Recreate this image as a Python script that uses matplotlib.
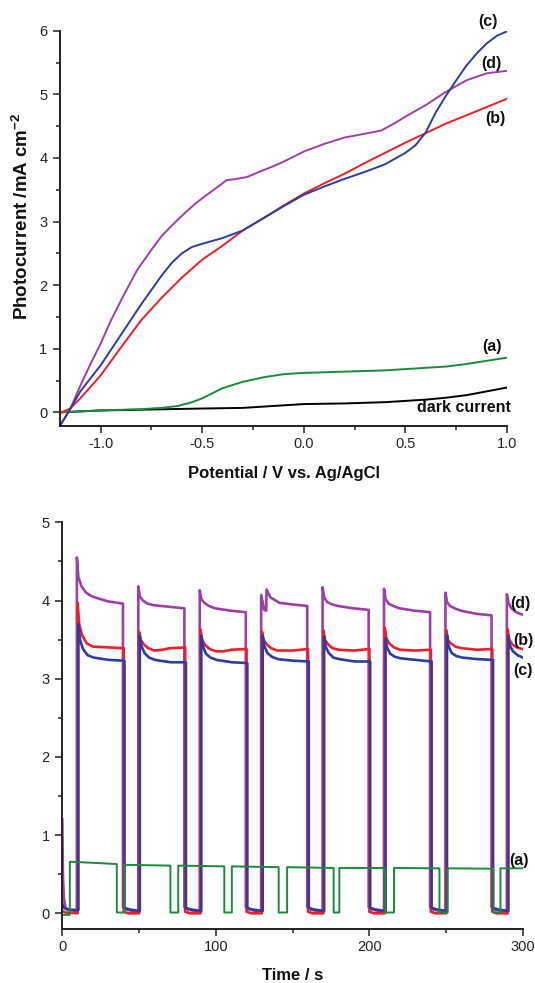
import numpy as np
import matplotlib
matplotlib.use('Agg')
import matplotlib.pyplot as plt
from matplotlib.ticker import MultipleLocator, FormatStrFormatter

plt.rcParams['font.family'] = ['Liberation Sans', 'DejaVu Sans']
plt.rcParams['axes.unicode_minus'] = False
plt.rcParams['mathtext.default'] = 'regular'

# ---------------- top panel data (Potential / V vs. Ag/AgCl) ----------------
d_x = [-1.2, -1.15, -1.1, -1.05, -1.0, -0.95, -0.89, -0.82, -0.74, -0.7, -0.655, -0.61,
       -0.57, -0.53, -0.49, -0.43, -0.38, -0.33, -0.28, -0.22, -0.15, -0.1, -0.05, 0.0,
       0.1, 0.2, 0.3, 0.38, 0.45, 0.5, 0.55, 0.6, 0.69, 0.75, 0.8, 0.9, 1.0]
d_y = [-0.21, 0.05, 0.42, 0.76, 1.08, 1.44, 1.82, 2.24, 2.6, 2.77, 2.92, 3.06,
       3.18, 3.29, 3.39, 3.53, 3.65, 3.67, 3.7, 3.78, 3.87, 3.94, 4.02, 4.1,
       4.22, 4.32, 4.38, 4.43, 4.55, 4.65, 4.74, 4.83, 5.02, 5.13, 5.22, 5.33, 5.37]

c_x = [-1.2, -1.15, -1.1, -1.0, -0.9, -0.8, -0.7, -0.65, -0.6, -0.55, -0.5, -0.4, -0.3,
       -0.2, -0.1, 0.0, 0.1, 0.2, 0.3, 0.4, 0.5, 0.55, 0.6, 0.65, 0.7, 0.75, 0.8, 0.85,
       0.9, 0.95, 1.0]
c_y = [-0.21, 0.05, 0.33, 0.74, 1.22, 1.7, 2.15, 2.35, 2.5, 2.6, 2.65, 2.74, 2.86,
       3.05, 3.24, 3.42, 3.55, 3.67, 3.78, 3.9, 4.08, 4.2, 4.4, 4.72, 4.98, 5.22, 5.45, 5.64,
       5.8, 5.92, 5.99]

b_x = [-1.2, -1.15, -1.1, -1.0, -0.9, -0.8, -0.7, -0.6, -0.5, -0.4, -0.3, -0.2, -0.1,
       0.0, 0.1, 0.2, 0.3, 0.4, 0.5, 0.6, 0.7, 0.8, 0.9, 1.0]
b_y = [-0.01, 0.06, 0.22, 0.58, 1.02, 1.45, 1.8, 2.12, 2.4, 2.62, 2.86, 3.05, 3.25,
       3.44, 3.6, 3.75, 3.92, 4.08, 4.24, 4.39, 4.54, 4.67, 4.8, 4.93]

a_x = [-1.2, -1.0, -0.8, -0.7, -0.62, -0.55, -0.5, -0.45, -0.4, -0.3, -0.2, -0.1, 0.0,
       0.2, 0.4, 0.6, 0.7, 0.8, 0.9, 1.0]
a_y = [0.0, 0.03, 0.05, 0.07, 0.1, 0.16, 0.22, 0.3, 0.38, 0.48, 0.55, 0.6, 0.62,
       0.64, 0.66, 0.7, 0.72, 0.76, 0.81, 0.86]

dark_x = [-1.2, -1.0, -0.5, -0.3, -0.1, 0.0, 0.2, 0.4, 0.5, 0.6, 0.7, 0.8, 0.9, 1.0]
dark_y = [0.0, 0.03, 0.06, 0.07, 0.11, 0.13, 0.14, 0.16, 0.18, 0.2, 0.23, 0.27, 0.33, 0.39]

# ---------------- bottom panel data (Time / s) ----------------
# sample d
d_start = [(0, 1.2), (0.4, 0.5), (1, 0.2), (2, 0.08), (4, 0.04), (9.5, 0.03)]
d_on = [9.5, 49.5, 89.5, 129.5, 169.5, 209.5, 249.5, 289.5]
d_off_pts = [(0, 0.08), (2, 0.05), (6, 0.03), (9.8, 0.02)]
d_cycles = [
    [(0, 4.55), (1, 4.3), (3, 4.18), (6, 4.1), (10, 4.05), (20, 3.99), (30, 3.96)],
    [(0, 4.18), (1, 4.05), (3, 4.0), (6, 3.96), (10, 3.94), (20, 3.92), (30, 3.9)],
    [(0, 4.13), (1, 4.02), (3, 3.97), (6, 3.93), (10, 3.9), (20, 3.87), (30, 3.85)],
    [(0, 4.07), (2, 3.88), (3.3, 3.87), (3.5, 4.14), (6, 4.04), (12, 3.97), (20, 3.95), (30, 3.93)],
    [(0, 4.17), (1, 4.04), (3, 3.98), (6, 3.95), (10, 3.93), (20, 3.9), (30, 3.88)],
    [(0, 4.15), (1, 4.02), (3, 3.96), (6, 3.93), (10, 3.9), (20, 3.87), (30, 3.85)],
    [(0, 4.1), (1, 3.98), (3, 3.93), (6, 3.9), (10, 3.87), (20, 3.83), (30, 3.81)],
    [(0, 4.08), (1, 3.97), (3, 3.9), (6, 3.85), (10, 3.82)],
]
# sample b
b_start = [(0, 0.03), (2, 0.01), (10, 0.0)]
b_on = [10, 50, 90, 130, 170, 210, 250, 290]
b_off_pts = [(0, 0.02), (3, 0.0), (9.8, 0.0)]
b_cycles = [
    [(0, 3.97), (1, 3.7), (3, 3.55), (6, 3.45), (10, 3.41), (20, 3.4), (30, 3.39)],
    [(0, 3.6), (1, 3.5), (3, 3.44), (6, 3.39), (10, 3.36), (15, 3.37), (20, 3.39), (30, 3.4)],
    [(0, 3.63), (1, 3.5), (3, 3.43), (6, 3.38), (10, 3.35), (15, 3.35), (20, 3.37), (30, 3.38)],
    [(0, 3.6), (1, 3.5), (3, 3.44), (6, 3.39), (10, 3.36), (20, 3.36), (30, 3.38)],
    [(0, 3.62), (1, 3.5), (3, 3.44), (6, 3.39), (10, 3.37), (20, 3.36), (30, 3.38)],
    [(0, 3.65), (1, 3.52), (3, 3.45), (6, 3.4), (10, 3.37), (20, 3.36), (30, 3.37)],
    [(0, 3.62), (1, 3.5), (3, 3.45), (6, 3.41), (10, 3.39), (20, 3.37), (30, 3.38)],
    [(0, 3.63), (1, 3.5), (3, 3.44), (6, 3.4), (9.5, 3.38)],
]
# sample c
c_start = [(0, 0.12), (1, 0.07), (3, 0.05), (10.5, 0.04)]
c_on = [10.5, 50.5, 90.5, 130.5, 170.5, 210.5, 250.5, 290.5]
c_off_pts = [(0, 0.07), (3, 0.05), (9.8, 0.03)]
c_cycles = [
    [(0, 3.7), (1, 3.5), (3, 3.38), (6, 3.3), (10, 3.27), (20, 3.24), (30, 3.23)],
    [(0, 3.55), (1, 3.42), (3, 3.33), (6, 3.27), (10, 3.24), (20, 3.21), (30, 3.21)],
    [(0, 3.55), (1, 3.42), (3, 3.32), (6, 3.27), (10, 3.24), (20, 3.21), (30, 3.2)],
    [(0, 3.55), (1, 3.42), (3, 3.33), (6, 3.28), (10, 3.25), (20, 3.23), (30, 3.22)],
    [(0, 3.54), (1, 3.41), (3, 3.33), (6, 3.27), (10, 3.25), (20, 3.22), (30, 3.22)],
    [(0, 3.52), (1, 3.4), (3, 3.32), (6, 3.28), (10, 3.26), (20, 3.24), (30, 3.22)],
    [(0, 3.56), (1, 3.42), (3, 3.33), (6, 3.29), (10, 3.27), (20, 3.25), (30, 3.24)],
    [(0, 3.55), (1, 3.42), (3, 3.35), (6, 3.3), (9.5, 3.27)],
]
# sample a
a_on = [4.9, 40.4, 75.5, 110.4, 146.4, 180.4, 216.0, 250.9, 285.3]
a_off = [35.5, 70.4, 105.5, 140.9, 176.7, 210.0, 245.6, 280.7, 299.5]
a_high_start = [0.66, 0.62, 0.61, 0.60, 0.59, 0.58, 0.58, 0.575, 0.575]
a_high_end = [0.63, 0.61, 0.60, 0.59, 0.58, 0.58, 0.575, 0.57, 0.575]
a_low = 0.01
a_initial = -0.02

COL_D = '#9e3fa8'
COL_B = '#ee1f2a'
COL_C = '#2d3c9f'
COL_A = '#1a8a3c'


def build(start, ons, cycles, off_pts):
    t = [p[0] for p in start]
    y = [p[1] for p in start]
    for i, (ton, cyc) in enumerate(zip(ons, cycles)):
        t.append(ton)
        y.append(y[-1])
        for dt, v in cyc:
            t.append(ton + dt)
            y.append(v)
        if i < len(ons) - 1:
            toff = t[-1]
            for dt, v in off_pts:
                t.append(toff + dt)
                y.append(v)
    return t, y


def build_a():
    t = [0, a_on[0]]
    y = [a_initial, a_initial]
    for i, (ton, toff, hs, he) in enumerate(zip(a_on, a_off, a_high_start, a_high_end)):
        if i > 0:
            t.append(ton)
            y.append(a_low)
        t += [ton, toff]
        y += [hs, he]
        if i < len(a_on) - 1:
            t.append(toff)
            y.append(a_low)
    return t, y


W, H = 535, 983
fig = plt.figure(figsize=(W / 100, H / 100), dpi=100)


def style(ax):
    for s in ['top', 'right']:
        ax.spines[s].set_visible(False)
    for s in ['left', 'bottom']:
        ax.spines[s].set_linewidth(1.4)
        ax.spines[s].set_color('#222222')
    ax.tick_params(which='major', direction='out', length=5, width=1.1,
                   labelsize=10.5, colors='#222222', pad=3)
    ax.tick_params(which='minor', direction='out', length=3, width=1.1, colors='#222222')
    ax.tick_params(axis='y', which='major', pad=4)


# ---------- top ----------
ax1 = fig.add_axes([60 / W, 1 - 425.7 / H, 447 / W, (425.7 - 30.7) / H])
ax1.plot(dark_x, dark_y, color='black', lw=1.4)
ax1.plot(a_x, a_y, color=COL_A, lw=1.4)
ax1.plot(d_x, d_y, color=COL_D, lw=1.4)
ax1.plot(b_x, b_y, color=COL_B, lw=1.4)
ax1.plot(c_x, c_y, color=COL_C, lw=1.4)
ax1.set_xlim(-1.2, 1.0)
ax1.set_ylim(-0.21, 6)
ax1.xaxis.set_major_locator(MultipleLocator(0.5))
ax1.xaxis.set_minor_locator(MultipleLocator(0.25))
ax1.xaxis.set_major_formatter(FormatStrFormatter('%.1f'))
ax1.yaxis.set_major_locator(MultipleLocator(1))
ax1.yaxis.set_minor_locator(MultipleLocator(0.5))
style(ax1)
lab_kw = dict(fontsize=11.5, fontweight='bold', ha='center', va='center', color='#111111')
ax1.text(0.908, 6.14, '(c)', **lab_kw)
ax1.text(0.924, 5.49, '(d)', **lab_kw)
ax1.text(0.941, 4.62, '(b)', **lab_kw)
ax1.text(0.924, 1.03, '(a)', **lab_kw)
ax1.text(1.02, 0.08, 'dark current', fontsize=11.5, fontweight='bold',
         ha='right', va='center', color='#111111')

fig.text((60 + 507) / 2 / W, 1 - 478.3 / H, 'Potential / V vs. Ag/AgCl',
         fontsize=12, fontweight='bold', ha='center', va='baseline', color='#111111')
fig.text(21.5 / W, 1 - 216 / H, 'Photocurrent /mA cm$^{-2}$', rotation=90,
         fontsize=13.5, fontweight='bold', ha='center', va='center', color='#111111')

# ---------- bottom ----------
y0_px, unit_px = 913.3, 78.2
ax2 = fig.add_axes([62.3 / W, 1 - (y0_px + 0.2 * unit_px) / H, 460.7 / W, 5.2 * unit_px / H])
td, yd = build(d_start, d_on, d_cycles, d_off_pts)
tb, yb = build(b_start, b_on, b_cycles, b_off_pts)
tc, yc = build(c_start, c_on, c_cycles, c_off_pts)
ta, ya = build_a()
ax2.plot(td, yd, color=COL_D, lw=1.9)
ax2.plot(tb, yb, color=COL_B, lw=1.9)
ax2.plot(tc, yc, color=COL_C, lw=1.9)
ax2.plot(ta, ya, color=COL_A, lw=1.4)
ax2.set_xlim(0, 300)
ax2.set_ylim(-0.2, 5)
ax2.xaxis.set_major_locator(MultipleLocator(100))
ax2.xaxis.set_minor_locator(MultipleLocator(50))
ax2.yaxis.set_major_locator(MultipleLocator(1))
ax2.yaxis.set_minor_locator(MultipleLocator(0.5))
style(ax2)
ax2.text(298, 3.96, '(d)', **lab_kw)
ax2.text(300, 3.49, '(b)', **lab_kw)
ax2.text(300, 3.1, '(c)', **lab_kw)
ax2.text(297.5, 0.68, '(a)', **lab_kw)

fig.text((62.3 + 523) / 2 / W, 1 - 980 / H, 'Time / s',
         fontsize=12, fontweight='bold', ha='center', va='baseline', color='#111111')

fig.savefig('out.png', dpi=100, facecolor='white')
